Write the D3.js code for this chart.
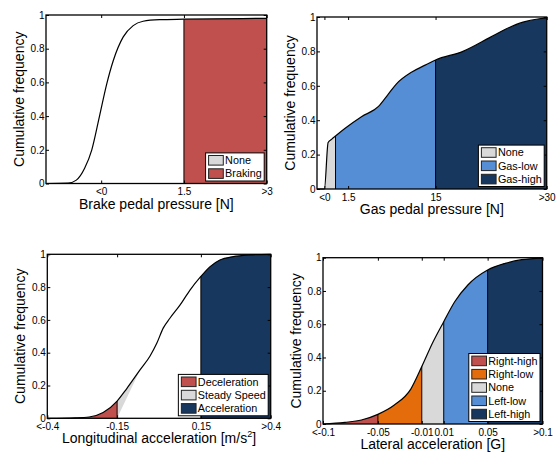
<!DOCTYPE html>
<html>
<head>
<meta charset="utf-8">
<script src="https://cdn.jsdelivr.net/npm/d3@7"></script>
<style>
  body { margin: 0; background: #fff; }
  svg { font-family: "Liberation Sans", Arial, sans-serif; }
</style>
</head>
<body>
<svg id="chart" width="557" height="453"></svg>
<script>
// cumulative curves: [x, cumulative frequency]
const brakeCdf = [[-1, 0], [-0.6, 0.002], [-0.45, 0.02], [-0.3, 0.09], [-0.17, 0.2], [-0.03, 0.4], [0.1, 0.59],
  [0.22, 0.73], [0.4, 0.87], [0.58, 0.937], [0.76, 0.963], [1.06, 0.972], [1.5, 0.975], [3, 0.98]];
const gasCdf = [[-1, 0], [0, 0], [0.5, 0.27], [1, 0.29], [1.5, 0.308], [2.8, 0.353], [5, 0.42], [7.3, 0.48],
  [8.6, 0.55], [9.7, 0.61], [11.8, 0.68], [13.6, 0.72], [15, 0.75], [18.7, 0.8], [22.3, 0.88], [24.5, 0.93],
  [26.8, 0.97], [29, 0.99], [30, 0.995]];
const longCdf = [[-0.4, 0], [-0.3, 0.003], [-0.25, 0.008], [-0.2, 0.035], [-0.15, 0.105], [-0.116, 0.18],
  [-0.068, 0.295], [-0.032, 0.38], [-0.008, 0.457], [0.015, 0.55], [0.039, 0.61], [0.075, 0.69], [0.111, 0.782],
  [0.15, 0.865], [0.183, 0.925], [0.218, 0.965], [0.266, 0.986], [0.326, 0.996], [0.4, 1]];
const latCdf = [[-0.1, 0], [-0.08, 0.01], [-0.065, 0.024], [-0.05, 0.058], [-0.035, 0.114], [-0.02, 0.21],
  [-0.01, 0.345], [0, 0.49], [0.01, 0.615], [0.02, 0.735], [0.032, 0.836], [0.05, 0.926], [0.066, 0.966],
  [0.081, 0.988], [0.1, 0.998]];

// tick positions and labels
const brakeTicks = [0, 1.5, 3];
const brakeTickLabels = ['<0', '1.5', '>3'];
const gasTicks = [0, 3.2, 15, 30];
const gasTickLabels = ['<0', '1.5', '15', '>30'];
const longTicks = [-0.4, -0.15, 0.15, 0.4];
const longTickLabels = ['<-0.4', '-0.15', '0.15', '>0.4'];
const latTicks = [-0.1, -0.05, -0.01, 0.01, 0.05, 0.1];
const latTickLabels = ['<-0.1', '-0.05', '-0.01', '0.01', '0.05', '>0.1'];
const yTicks = [0, 0.2, 0.4, 0.6, 0.8, 1];

// legend categories
const brakeClasses = ['None', 'Braking'];
const gasClasses = ['None', 'Gas-low', 'Gas-high'];
const longClasses = ['Deceleration', 'Steady Speed', 'Acceleration'];
const latClasses = ['Right-high', 'Right-low', 'None', 'Left-low', 'Left-high'];

// shaded ranges [from, to, class]
const brakeRanges = [[1.5, 3, 'Braking']];
const gasRanges = [[0, 1.5, 'None'], [1.5, 15, 'Gas-low'], [15, 30, 'Gas-high']];
const longRanges = [[-0.4, -0.15, 'Deceleration'], [0.15, 0.4, 'Acceleration']];
const latRanges = [[-0.1, -0.05, 'Right-high'], [-0.05, -0.01, 'Right-low'], [-0.01, 0.01, 'None'],
  [0.01, 0.05, 'Left-low'], [0.05, 0.1, 'Left-high']];
// steady speed sliver: between the curve and a chord
const steadyChord = [[-0.15, 0], [-0.068, 0.295]];

const colors = {
  'None': '#d9d9d9', 'Braking': '#c0504d', 'Gas-low': '#558ed5', 'Gas-high': '#17375e',
  'Deceleration': '#c0504d', 'Steady Speed': '#d9d9d9', 'Acceleration': '#17375e',
  'Right-high': '#c0504d', 'Right-low': '#e46c0a', 'Left-low': '#558ed5', 'Left-high': '#17375e'
};

const panels = [
  { id: 'brake', box: [46, 15, 266.7, 183.5], domain: [-1, 3], cdf: brakeCdf, ticks: brakeTicks,
    tickLabels: brakeTickLabels, classes: brakeClasses, ranges: brakeRanges, label: ['Brake pedal pressure [N]'] },
  { id: 'gas', box: [317, 17, 546.7, 189], domain: [-1, 30], cdf: gasCdf, ticks: gasTicks,
    tickLabels: gasTickLabels, classes: gasClasses, ranges: gasRanges, label: ['Gas pedal pressure [N]'] },
  { id: 'long', box: [47.3, 254.3, 270.7, 418.3], domain: [-0.4, 0.4], cdf: longCdf, ticks: longTicks,
    tickLabels: longTickLabels, classes: longClasses, ranges: longRanges, chord: steadyChord,
    label: ['Longitudinal acceleration [m/s', '2', ']'] },
  { id: 'lat', box: [323, 257.7, 542.5, 424], domain: [-0.1, 0.1], cdf: latCdf, ticks: latTicks,
    tickLabels: latTickLabels, classes: latClasses, ranges: latRanges, label: ['Lateral acceleration [G]'] }
];

const svg = d3.select('#chart');
const defs = svg.append('defs');

const valueAt = (cdf, v) => {
  const hit = cdf.find(d => d[0] === v);
  if (hit) return hit[1];
  const i = d3.bisector(d => d[0]).left(cdf, v);
  const a = cdf[i - 1], b = cdf[i];
  return a[1] + (b[1] - a[1]) * (v - a[0]) / (b[0] - a[0]);
};

panels.forEach(p => {
  const [x0, y0, x1, y1] = p.box;
  const x = d3.scaleLinear().domain(p.domain).range([x0, x1]);
  const y = d3.scaleLinear().domain([0, 1]).range([y1, y0]);
  const g = svg.append('g').attr('class', `panel panel-${p.id}`);

  g.append('rect').attr('x', x0).attr('y', y0).attr('width', x1 - x0).attr('height', y1 - y0).attr('fill', '#fff');

  const area = d3.area().x(d => x(d[0])).y0(y(0)).y1(d => y(d[1])).curve(d3.curveMonotoneX);
  const line = d3.line().x(d => x(d[0])).y(d => y(d[1])).curve(d3.curveMonotoneX);

  p.ranges.forEach((r, i) => {
    const id = `clip-${p.id}-${i}`;
    defs.append('clipPath').attr('id', id).append('rect')
      .attr('x', x(r[0])).attr('y', y0).attr('width', x(r[1]) - x(r[0])).attr('height', y1 - y0);
    g.append('path').attr('d', area(p.cdf)).attr('fill', colors[r[2]]).attr('clip-path', `url(#${id})`);
  });

  if (p.chord) {
    const [c0, c1] = p.chord;
    const id = `clip-${p.id}-chord`;
    const pts = [[x(c0[0]), y(c0[1])], [x(c1[0]), y(c1[1])], [x(c1[0]), y(1)], [x(c0[0]), y(1)]];
    defs.append('clipPath').attr('id', id).append('polygon').attr('points', pts.map(d => d.join(',')).join(' '));
    g.append('path').attr('d', area(p.cdf)).attr('fill', colors['Steady Speed']).attr('clip-path', `url(#${id})`);
  }

  // vertical separators between classes
  const cuts = new Set();
  p.ranges.forEach(r => { if (r[0] > p.domain[0]) cuts.add(r[0]); if (r[1] < p.domain[1]) cuts.add(r[1]); });
  cuts.forEach(c => {
    g.append('line').attr('x1', x(c)).attr('x2', x(c)).attr('y1', y(0)).attr('y2', y(valueAt(p.cdf, c)))
      .attr('stroke', '#000').attr('stroke-width', 1);
  });

  g.append('path').attr('d', line(p.cdf)).attr('fill', 'none').attr('stroke', '#000').attr('stroke-width', 1.2);

  // axes
  const fmt = (v) => p.tickLabels[p.ticks.indexOf(v)];
  const bottom = g.append('g').attr('transform', `translate(0,${y1})`)
    .call(d3.axisBottom(x).tickValues(p.ticks).tickFormat(fmt).tickSize(-3).tickPadding(4.5));
  const top = g.append('g').attr('transform', `translate(0,${y0})`)
    .call(d3.axisTop(x).tickValues(p.ticks).tickFormat('').tickSize(-3));
  const left = g.append('g').attr('transform', `translate(${x0},0)`)
    .call(d3.axisLeft(y).tickValues(yTicks).tickFormat(d3.format('~g')).tickSize(-3).tickPadding(1.5));
  const right = g.append('g').attr('transform', `translate(${x1},0)`)
    .call(d3.axisRight(y).tickValues(yTicks).tickFormat('').tickSize(-3));
  [bottom, top, left, right].forEach(a => {
    a.select('.domain').remove();
    a.selectAll('line').attr('stroke', '#000');
    a.selectAll('text').attr('font-size', 10).attr('fill', '#000').attr('font-family', null);
  });

  g.append('rect').attr('x', x0).attr('y', y0).attr('width', x1 - x0).attr('height', y1 - y0)
    .attr('fill', 'none').attr('stroke', '#000').attr('stroke-width', 1.3);

  // axis titles
  const xl = g.append('text').attr('x', (x0 + x1) / 2).attr('y', y1 + 25)
    .attr('text-anchor', 'middle').attr('font-size', 14);
  xl.append('tspan').text(p.label[0]);
  if (p.label.length > 1) {
    xl.append('tspan').attr('font-size', 9).attr('dy', -6).text(p.label[1]);
    xl.append('tspan').attr('dy', 6).text(p.label[2]);
  }
  g.append('text').attr('transform', `translate(${x0 - 22},${(y0 + y1) / 2}) rotate(-90)`)
    .attr('text-anchor', 'middle').attr('font-size', 14).text('Cumulative frequency');

  // legend
  const rowH = 13.3;
  const lg = g.append('g');
  const frame = lg.append('rect').attr('fill', '#fff').attr('stroke', '#000').attr('stroke-width', 1);
  const labels = [];
  p.classes.forEach((c, i) => {
    lg.append('rect').attr('x', 3).attr('y', 2.6 + i * rowH).attr('width', 14.7).attr('height', 9.6)
      .attr('fill', colors[c]).attr('stroke', '#222').attr('stroke-width', 1);
    labels.push(lg.append('text').attr('x', 19.5).attr('y', 7.5 + i * rowH).attr('dy', '0.35em')
      .attr('font-size', 10.8).text(c));
  });
  const wMax = d3.max(labels, t => t.node().getComputedTextLength());
  const lw = 19.5 + wMax + 2.5;
  const lh = p.classes.length * rowH + 1.5;
  frame.attr('width', lw).attr('height', lh);
  lg.attr('transform', `translate(${x1 - 2.5 - lw},${y1 - 2.5 - lh})`);
});
</script>
</body>
</html>
